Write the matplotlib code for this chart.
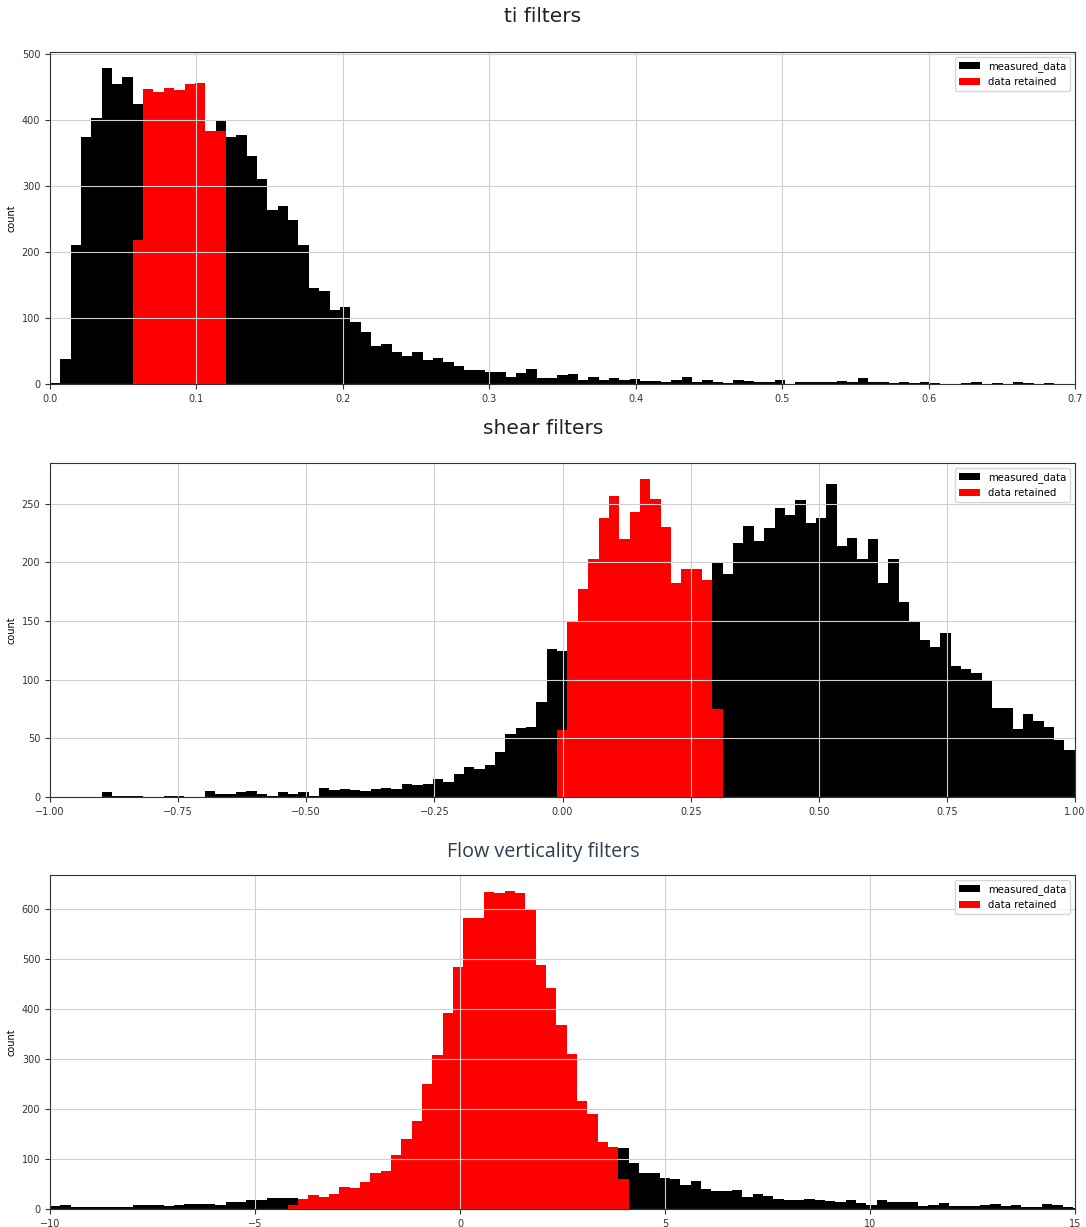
import numpy as np
import matplotlib.pyplot as plt

# --- ti histogram: bins start at 0 with width 0.00707, red = retained range
ti_start, ti_width = 0.0, 0.00707
ti_measured = [2, 38, 211, 374, 403, 479, 454, 465, 424, 447,
               443, 448, 445, 454, 456, 384, 398, 374, 378, 346,
               310, 263, 270, 248, 210, 146, 141, 112, 116, 94,
               79, 58, 61, 48, 43, 49, 36, 39, 34, 27,
               22, 22, 19, 19, 10, 17, 23, 9, 9, 13,
               15, 6, 11, 6, 9, 6, 8, 4, 4, 3,
               6, 11, 3, 6, 3, 1, 6, 4, 3, 3,
               6, 0, 3, 3, 3, 3, 4, 3, 9, 3,
               3, 1, 3, 1, 3, 1, 0, 0, 1, 3,
               0, 1, 0, 3, 1, 0, 1, 0, 0, 0]
ti_first_kept = 8
ti_retained = [218, 447, 443, 448, 445, 454, 456, 384, 384]

# --- shear histogram
shear_start, shear_width = -0.8994, 0.0202
shear_measured = [4, 1, 1, 1, 0, 0, 1, 1, 0, 0,
                  5, 3, 3, 4, 5, 3, 1, 4, 3, 4,
                  1, 8, 6, 7, 6, 5, 7, 8, 7, 11,
                  10, 11, 15, 13, 20, 26, 24, 27, 38, 54,
                  59, 60, 81, 126, 124, 150, 177, 203, 238, 256,
                  220, 243, 271, 254, 230, 182, 194, 194, 185, 199,
                  190, 216, 231, 218, 229, 246, 240, 253, 233, 238,
                  267, 214, 221, 203, 220, 182, 203, 166, 149, 134,
                  128, 140, 112, 109, 106, 100, 76, 76, 58, 71,
                  65, 60, 49, 40, 35, 30, 22, 18, 12, 6]
shear_first_kept = 44
shear_retained = [57, 150, 177, 203, 238, 256, 220, 243, 271, 254,
                  230, 182, 194, 194, 185, 75]

# --- flow verticality histogram
flow_start, flow_width = -10.0, 0.252
flow_measured = [5, 7, 3, 4, 4, 4, 4, 3, 7, 7,
                 7, 5, 7, 9, 10, 10, 7, 13, 13, 18,
                 17, 21, 21, 22, 20, 28, 23, 29, 43, 41,
                 53, 72, 77, 108, 141, 176, 250, 308, 393, 484,
                 582, 583, 635, 633, 637, 632, 599, 489, 442, 369,
                 311, 216, 190, 134, 125, 123, 93, 73, 72, 63,
                 61, 48, 55, 39, 35, 35, 37, 23, 29, 25,
                 19, 17, 17, 20, 17, 16, 13, 18, 11, 7,
                 18, 13, 13, 13, 5, 7, 12, 5, 5, 5,
                 7, 10, 5, 7, 3, 3, 10, 7, 3, 2]
flow_first_kept = 23
flow_retained = [8, 20, 28, 23, 29, 43, 41, 53, 72, 77,
                 108, 141, 176, 250, 308, 393, 484, 582, 583, 635,
                 633, 637, 632, 599, 489, 442, 369, 311, 216, 190,
                 134, 125, 60]

plt.rcParams['font.size'] = 7
plt.rcParams['legend.fontsize'] = 7.3
plt.rcParams['grid.color'] = '#cfcfcf'
plt.rcParams['axes.edgecolor'] = '#333333'
plt.rcParams['xtick.color'] = '#333333'
plt.rcParams['ytick.color'] = '#333333'

fig = plt.figure(figsize=(10.86, 12.27), dpi=100)


def filter_hist(ax, start, width, measured, first_kept, retained, xlim):
    edges = start + width * np.arange(len(measured) + 1)
    centers = (edges[:-1] + edges[1:]) / 2
    ax.hist(centers, bins=edges, weights=measured, color='black', label='measured_data')
    kept = edges[first_kept:first_kept + len(retained) + 1]
    kept_c = (kept[:-1] + kept[1:]) / 2
    ax.hist(kept_c, bins=kept, weights=retained, color='red', label='data retained')
    ax.set_xlim(xlim)
    ax.set_ylabel('count')
    ax.grid(True)
    ax.legend(loc='upper right')


ax1 = fig.add_axes([0.046, 0.687, 0.944, 0.2706])
filter_hist(ax1, ti_start, ti_width, ti_measured, ti_first_kept, ti_retained, (0, 0.7))

ax2 = fig.add_axes([0.046, 0.3504, 0.944, 0.2723])
filter_hist(ax2, shear_start, shear_width, shear_measured, shear_first_kept, shear_retained, (-1, 1))

ax3 = fig.add_axes([0.046, 0.0147, 0.944, 0.2722])
filter_hist(ax3, flow_start, flow_width, flow_measured, flow_first_kept, flow_retained, (-10, 15))

fig.text(0.5, 1 - 17 / 1227, 'ti filters', ha='center', va='center', fontsize=14.5, color='#222222')
fig.text(0.5, 1 - 428 / 1227, 'shear filters', ha='center', va='center', fontsize=14.5, color='#222222')
fig.text(0.5, 1 - 852 / 1227, 'Flow verticality filters', ha='center', va='center',
         fontsize=14.2, color='#2e3e4e', family=['Open Sans', 'DejaVu Sans'])

fig.savefig('out.png', dpi=100, facecolor='white')
